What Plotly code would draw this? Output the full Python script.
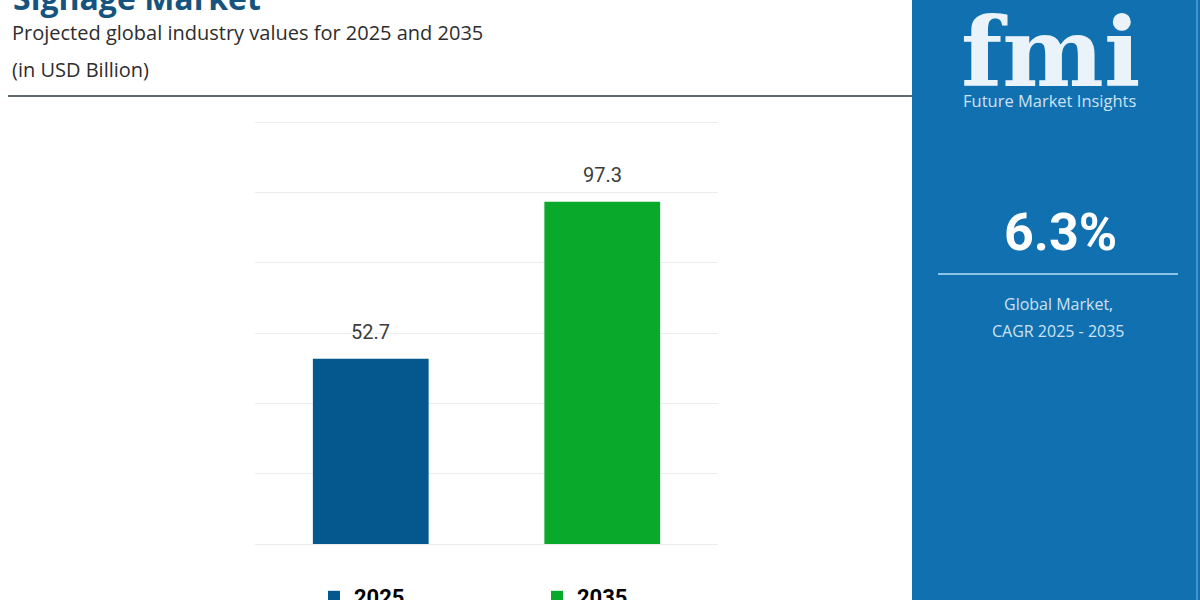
import plotly.graph_objects as go

# data
years = ["2025", "2035"]
values = [52.7, 97.3]
bar_colors = ["rgb(4,88,141)", "rgb(9,170,44)"]
cagr = "6.3%"

W, H = 1200, 600
L, R, T, B = 255, 718, 121, 544   # plot area in pixels


def px(x):
    return (x - L) / (R - L)


def py(y):
    return (B - y) / (B - T)


fig = go.Figure()
for yr, v, c in zip(years, values, bar_colors):
    fig.add_trace(go.Bar(x=[yr], y=[v], name=yr, marker=dict(color=c, line=dict(width=0)),
                         width=0.5))

annotations = []
# value labels (x given as category index)
for i, v in enumerate(values):
    annotations.append(dict(x=i, y=v, xref="x", yref="y", text="{:.1f}".format(v),
                            showarrow=False, yanchor="bottom", yshift=13,
                            font=dict(family="Roboto", size=20, color="rgb(60,60,60)")))

# header
annotations.append(dict(xref="paper", yref="paper", x=px(11), y=py(-3), xanchor="left",
                        yanchor="middle", text="<b>Signage Market</b>", showarrow=False,
                        font=dict(family="Open Sans", size=32, color="rgb(22,84,128)")))
annotations.append(dict(xref="paper", yref="paper", x=px(10), y=py(32), xanchor="left",
                        yanchor="middle", text="Projected global industry values for 2025 and 2035",
                        showarrow=False,
                        font=dict(family="Open Sans", size=20, color="rgb(45,45,45)")))
annotations.append(dict(xref="paper", yref="paper", x=px(10), y=py(70), xanchor="left",
                        yanchor="middle", text="(in USD Billion)", showarrow=False,
                        font=dict(family="Open Sans", size=20, color="rgb(45,45,45)")))

# right panel
panel_txt = "rgb(205,226,244)"
annotations.append(dict(xref="paper", yref="paper", x=px(1050), y=py(52), xanchor="center",
                        yanchor="middle", text="<b>fmi</b>", showarrow=False,
                        font=dict(family="DejaVu Serif", size=96, color="rgb(235,243,250)")))
annotations.append(dict(xref="paper", yref="paper", x=px(1050), y=py(101), xanchor="center",
                        yanchor="middle", text="Future Market Insights", showarrow=False,
                        font=dict(family="Open Sans", size=16.5, color=panel_txt)))
annotations.append(dict(xref="paper", yref="paper", x=px(1060), y=py(232), xanchor="center",
                        yanchor="middle", text="<b>" + cagr + "</b>", showarrow=False,
                        font=dict(family="Roboto", size=52, color="white")))
annotations.append(dict(xref="paper", yref="paper", x=px(1058), y=py(304), xanchor="center",
                        yanchor="middle", text="Global Market,", showarrow=False,
                        font=dict(family="Open Sans", size=16, color=panel_txt)))
annotations.append(dict(xref="paper", yref="paper", x=px(1058), y=py(331), xanchor="center",
                        yanchor="middle", text="CAGR 2025 - 2035", showarrow=False,
                        font=dict(family="Open Sans", size=16, color=panel_txt)))

shapes = [
    dict(type="rect", xref="paper", yref="paper", x0=px(912), x1=px(1200), y0=py(600), y1=py(0),
         fillcolor="rgb(17,112,176)", line=dict(width=0), layer="below"),
    dict(type="line", xref="paper", yref="paper", x0=px(1197), x1=px(1197), y0=py(600), y1=py(0),
         line=dict(color="rgb(120,180,225)", width=1)),
    dict(type="line", xref="paper", yref="paper", x0=px(938), x1=px(1178), y0=py(274), y1=py(274),
         line=dict(color="rgb(140,195,235)", width=2)),
    dict(type="line", xref="paper", yref="paper", x0=px(8), x1=px(912), y0=py(96), y1=py(96),
         line=dict(color="rgb(95,105,115)", width=2)),
]

fig.update_layout(
    width=W, height=H,
    margin=dict(l=L, r=W - R, t=T, b=H - B, autoexpand=False),
    plot_bgcolor="white", paper_bgcolor="white",
    barmode="overlay",
    xaxis=dict(type="category", showticklabels=False, showgrid=False, showline=False,
               ticks="", range=[-0.5, 1.5]),
    yaxis=dict(range=[0, 120.3], dtick=20, showticklabels=False, showgrid=True,
               gridcolor="rgb(236,236,236)", gridwidth=1, zeroline=True,
               zerolinecolor="rgb(236,236,236)", zerolinewidth=1, fixedrange=True),
    showlegend=True,
    legend=dict(orientation="h", x=px(314), y=py(576), xanchor="left", yanchor="top",
                entrywidth=178, entrywidthmode="pixels", traceorder="normal",
                font=dict(family="Roboto", size=22, color="black", weight="bold"),
                bgcolor="rgba(0,0,0,0)"),
    annotations=annotations,
    shapes=shapes,
)

fig.write_html("out.html", config={"displayModeBar": False},
               post_script="document.body.style.margin='0';")
